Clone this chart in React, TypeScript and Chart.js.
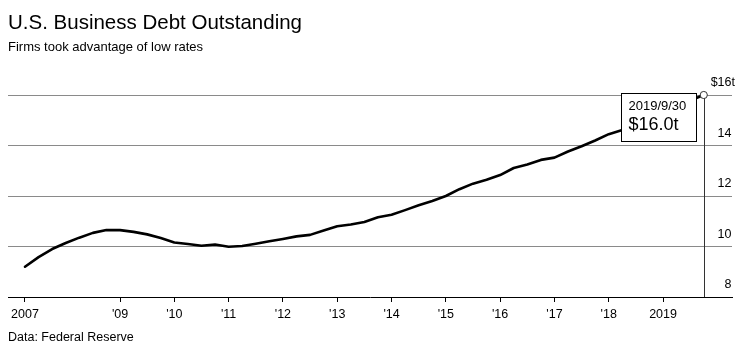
import { useEffect, useRef } from 'react';
import { Chart, registerables } from 'chart.js';

Chart.register(...registerables);

const FONT = '"Liberation Sans", Arial, Helvetica, sans-serif';

const titleText = 'U.S. Business Debt Outstanding';
const subtitleText = 'Firms took advantage of low rates';
const sourceText = 'Data: Federal Reserve';

// quarter-end observations
const quarters = [
  '2007Q1', '2007Q2', '2007Q3', '2007Q4',
  '2008Q1', '2008Q2', '2008Q3', '2008Q4',
  '2009Q1', '2009Q2', '2009Q3', '2009Q4',
  '2010Q1', '2010Q2', '2010Q3', '2010Q4',
  '2011Q1', '2011Q2', '2011Q3', '2011Q4',
  '2012Q1', '2012Q2', '2012Q3', '2012Q4',
  '2013Q1', '2013Q2', '2013Q3', '2013Q4',
  '2014Q1', '2014Q2', '2014Q3', '2014Q4',
  '2015Q1', '2015Q2', '2015Q3', '2015Q4',
  '2016Q1', '2016Q2', '2016Q3', '2016Q4',
  '2017Q1', '2017Q2', '2017Q3', '2017Q4',
  '2018Q1', '2018Q2', '2018Q3', '2018Q4',
  '2019Q1', '2019Q2', '2019Q3',
];

// trillions of dollars
const debt = [
  9.20, 9.58, 9.90, 10.14,
  10.35, 10.54, 10.65, 10.65,
  10.58, 10.48, 10.34, 10.16,
  10.10, 10.03, 10.08, 9.99,
  10.02, 10.11, 10.21, 10.30,
  10.40, 10.46, 10.63, 10.80,
  10.87, 10.97, 11.16, 11.26,
  11.44, 11.63, 11.80, 12.00,
  12.27, 12.49, 12.64, 12.83,
  13.11, 13.25, 13.43, 13.52,
  13.76, 13.97, 14.20, 14.45,
  14.61, 14.82, 15.05, 15.31,
  15.52, 15.78, 16.00,
];

const lastDateLabel = '2019/9/30';

const xTickValues = [2007.25, 2009, 2010, 2011, 2012, 2013, 2014, 2015, 2016, 2017, 2018, 2019];
const xTickLabels = ['2007', "'09", "'10", "'11", "'12", "'13", "'14", "'15", "'16", "'17", "'18", '2019'];

const yTickValues = [8, 10, 12, 14, 16];
const yTickLabels = ['8 ', '10 ', '12 ', '14 ', '$16t'];

const X_MIN = 2006.937;
const X_MAX = 2020.27;

function quarterEnd(q: string): number {
  const year = parseInt(q.slice(0, 4), 10);
  const qq = parseInt(q.slice(5), 10);
  return year + qq / 4;
}

const lastMarker = {
  id: 'lastMarker',
  beforeDatasetsDraw(chart: any) {
    const meta = chart.getDatasetMeta(0);
    const pt = meta.data[meta.data.length - 1];
    if (!pt) return;
    const ctx = chart.ctx;
    const x = Math.round(pt.x) + 0.5;
    ctx.save();
    ctx.strokeStyle = '#333';
    ctx.lineWidth = 1;
    ctx.beginPath();
    ctx.moveTo(x, pt.y);
    ctx.lineTo(x, chart.chartArea.bottom);
    ctx.stroke();
    ctx.restore();
  },
  afterDatasetsDraw(chart: any) {
    const meta = chart.getDatasetMeta(0);
    const pt = meta.data[meta.data.length - 1];
    if (!pt) return;
    const ctx = chart.ctx;
    const w = 75;
    const h = 48;
    const right = Math.round(pt.x - 8) + 0.5;
    const left = right - w;
    const top = Math.round(pt.y - 2.5) + 0.5;
    ctx.save();
    ctx.fillStyle = '#fff';
    ctx.fillRect(left, top, w, h);
    ctx.strokeStyle = '#000';
    ctx.lineWidth = 1;
    ctx.strokeRect(left, top, w, h);
    ctx.fillStyle = '#000';
    ctx.textAlign = 'left';
    ctx.textBaseline = 'middle';
    ctx.font = `13px ${FONT}`;
    ctx.fillText(lastDateLabel, left + 7, top + 12.5);
    const lastVal = debt[debt.length - 1];
    ctx.font = `18px ${FONT}`;
    ctx.fillText(`$${lastVal.toFixed(1)}t`, left + 7, top + 32);
    ctx.restore();
  },
};

export default function App() {
  const ref = useRef<HTMLCanvasElement>(null);

  useEffect(() => {
    const canvas = ref.current;
    if (!canvas) return;
    const lastIndex = debt.length - 1;
    const chart = new Chart(canvas, {
      type: 'line',
      data: {
        datasets: [
          {
            data: quarters.map((q, i) => ({ x: quarterEnd(q), y: debt[i] })),
            borderColor: '#000',
            borderWidth: 2.6,
            borderJoinStyle: 'round',
            borderCapStyle: 'round',
            tension: 0,
            fill: false,
            clip: false as any,
            pointRadius: (c: any) => (c.dataIndex === lastIndex ? 3.6 : 0),
            pointHoverRadius: 0,
            pointBackgroundColor: '#fff',
            pointBorderColor: '#333',
            pointBorderWidth: 1,
          } as any,
        ],
      },
      options: {
        responsive: false,
        animation: false,
        events: [],
        layout: { padding: { left: 8, right: 17, top: 95, bottom: 0 } },
        plugins: {
          legend: { display: false },
          tooltip: { enabled: false },
        },
        scales: {
          x: {
            type: 'linear',
            position: 'bottom',
            min: X_MIN,
            max: X_MAX,
            afterBuildTicks: (s: any) => {
              s.ticks = xTickValues.map((v) => ({ value: v }));
            },
            afterFit: (s: any) => {
              s.height = 59;
            },
            grid: {
              drawOnChartArea: false,
              drawTicks: true,
              tickLength: 5,
              color: '#000',
              lineWidth: 1,
            },
            border: { display: true, color: '#000', width: 1 },
            ticks: {
              autoSkip: false,
              maxRotation: 0,
              minRotation: 0,
              padding: 5,
              color: '#000',
              font: { family: FONT, size: 12.5 },
              callback: (_v: any, i: number) => xTickLabels[i],
            },
          },
          y: {
            type: 'linear',
            position: 'right',
            min: 8,
            max: 16,
            afterBuildTicks: (s: any) => {
              s.ticks = yTickValues.map((v) => ({ value: v }));
            },
            afterFit: (s: any) => {
              s.width = 0;
            },
            grid: {
              drawTicks: false,
              lineWidth: 1,
              color: (c: any) => (c.tick && c.tick.value === 8 ? 'rgba(0,0,0,0)' : '#8a8a8a'),
            },
            border: { display: false },
            ticks: {
              mirror: true,
              padding: 3,
              labelOffset: -12,
              crossAlign: 'near',
              color: '#000',
              font: { family: FONT, size: 12.5 },
              callback: (_v: any, i: number) => yTickLabels[i],
            },
          },
        },
      } as any,
      plugins: [lastMarker],
    });
    return () => chart.destroy();
  }, []);

  return (
    <div
      style={{
        position: 'absolute',
        left: 0,
        top: 0,
        width: 749,
        height: 356,
        background: '#fff',
        fontFamily: FONT,
        color: '#000',
        overflow: 'hidden',
      }}
    >
      <canvas
        ref={ref}
        width={749}
        height={356}
        style={{ position: 'absolute', left: 0, top: 0, width: 749, height: 356 }}
      />
      <div style={{ position: 'absolute', left: 8, top: 12, fontSize: 20.5, lineHeight: '20.5px', whiteSpace: 'nowrap' }}>
        {titleText}
      </div>
      <div style={{ position: 'absolute', left: 8, top: 40.8, fontSize: 13, lineHeight: '12px', whiteSpace: 'nowrap' }}>
        {subtitleText}
      </div>
      <div style={{ position: 'absolute', left: 8, top: 330.7, fontSize: 12.5, lineHeight: '13px', whiteSpace: 'nowrap' }}>
        {sourceText}
      </div>
    </div>
  );
}
